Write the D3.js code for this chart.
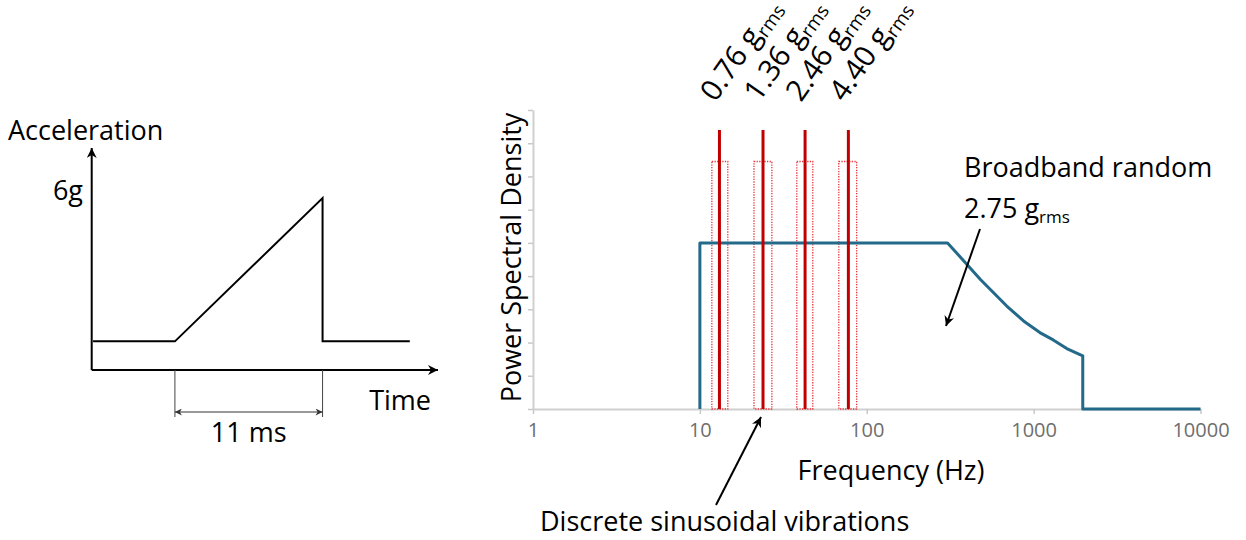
<!DOCTYPE html>
<html>
<head>
<meta charset="utf-8">
<script src="https://cdn.jsdelivr.net/npm/d3@7"></script>
<style>
  body { margin: 0; background: #fff; }
  svg { display: block; font-family: "Open Sans", sans-serif; }
</style>
</head>
<body>
<div id="chart"></div>
<script>
// shock pulse (left panel): time in ms, acceleration in g
const pulseTime = [-6.1, 0, 11, 11, 17.5];
const pulseAccel = [0, 0, 6, 0, 0];

// broadband random PSD (right panel), arbitrary PSD units (0..9 grid)
const psdFreq = [10, 10, 305, 480, 690, 870, 1090, 1310, 1580, 1970, 1970, 10000];
const psdLevel = [0, 5, 5, 3.9, 3.1, 2.65, 2.3, 2.08, 1.82, 1.6, 0, 0];

// discrete sine tones
const sineFreq = [13.1, 23.9, 42.7, 77.6];
const sineLow = [11.8, 21.1, 38.1, 68];
const sineHigh = [14.7, 27, 47.5, 87];
const sineLevel = 8.4;
const sineBandLevel = 7.45;
const sineLabels = ["0.76", "1.36", "2.46", "4.40"];

const freqTicks = [1, 10, 100, 1000, 10000];
const psdTicks = [0, 1, 2, 3, 4, 5, 6, 7, 8, 9];

const W = 1246, H = 540;
const svg = d3.select("#chart").append("svg")
  .attr("width", W).attr("height", H);

const defs = svg.append("defs");
defs.append("marker").attr("id", "arrowBig")
  .attr("viewBox", "0 0 10 10").attr("refX", 10).attr("refY", 5)
  .attr("markerWidth", 14).attr("markerHeight", 10)
  .attr("markerUnits", "userSpaceOnUse").attr("orient", "auto")
  .append("path").attr("d", "M0,0 L10,5 L0,10 L3,5 Z").attr("fill", "#000");
defs.append("marker").attr("id", "arrowDim")
  .attr("viewBox", "0 0 10 10").attr("refX", 10).attr("refY", 5)
  .attr("markerWidth", 12).attr("markerHeight", 7)
  .attr("markerUnits", "userSpaceOnUse").attr("orient", "auto-start-reverse")
  .append("path").attr("d", "M0,0 L10,5 L0,10 L3,5 Z").attr("fill", "#333");

// ---------- left panel: shock pulse ----------
const tx = d3.scaleLinear().domain([-6.2, 19.6]).range([91.7, 438]);
const ay = d3.scaleLinear().domain([-1.2, 8.1]).range([370, 148]);

const left = svg.append("g");
// axes with arrows
left.append("line")
  .attr("x1", tx(-6.2)).attr("y1", ay(-1.2))
  .attr("x2", tx(-6.2)).attr("y2", ay(8.1))
  .attr("stroke", "#000").attr("stroke-width", 2)
  .attr("marker-end", "url(#arrowBig)");
left.append("line")
  .attr("x1", tx(-6.2)).attr("y1", ay(-1.2))
  .attr("x2", tx(19.6)).attr("y2", ay(-1.2))
  .attr("stroke", "#000").attr("stroke-width", 2)
  .attr("marker-end", "url(#arrowBig)");

const pulse = pulseTime.map((t, i) => [t, pulseAccel[i]]);
left.append("path")
  .datum(pulse)
  .attr("fill", "none").attr("stroke", "#000").attr("stroke-width", 2)
  .attr("d", d3.line().x(d => tx(d[0])).y(d => ay(d[1])));

// 11 ms dimension
[0, 11].forEach(t => {
  left.append("line")
    .attr("x1", tx(t)).attr("x2", tx(t))
    .attr("y1", ay(-1.2)).attr("y2", ay(-1.2) + 47)
    .attr("stroke", "#444").attr("stroke-width", 1);
});
left.append("line")
  .attr("x1", tx(0)).attr("x2", tx(11))
  .attr("y1", ay(-1.2) + 42).attr("y2", ay(-1.2) + 42)
  .attr("stroke", "#333").attr("stroke-width", 1.2)
  .attr("marker-start", "url(#arrowDim)").attr("marker-end", "url(#arrowDim)");

left.append("text").attr("x", 8).attr("y", 140)
  .attr("font-size", 27).text("Acceleration");
left.append("text").attr("x", 83).attr("y", 200).attr("text-anchor", "end")
  .attr("font-size", 27).text("6g");
left.append("text").attr("x", 431).attr("y", 410).attr("text-anchor", "end")
  .attr("font-size", 27).text("Time");
left.append("text").attr("x", tx(5.5)).attr("y", 442).attr("text-anchor", "middle")
  .attr("font-size", 27).text("11 ms");

// ---------- right panel: PSD ----------
const fx = d3.scaleLog().domain([1, 10000]).range([533, 1200.5]);
const py = d3.scaleLinear().domain([0, 9]).range([409, 110]);

const right = svg.append("g");

const xAxis = right.append("g")
  .attr("transform", `translate(0,${py(0)})`)
  .call(d3.axisBottom(fx).tickValues(freqTicks).tickFormat(d3.format("d"))
    .tickSize(5).tickPadding(9).tickSizeOuter(0));
xAxis.select(".domain").attr("stroke", "#d0d0d0").attr("stroke-width", 2);
xAxis.selectAll(".tick line").attr("stroke", "#c8c8c8").attr("stroke-width", 1.5);
xAxis.selectAll(".tick text").attr("fill", "#6e6e6e")
  .attr("font-size", 20).attr("font-family", "Open Sans, sans-serif");

const yAxis = right.append("g")
  .attr("transform", `translate(${fx(1)},0)`)
  .call(d3.axisLeft(py).tickValues(psdTicks).tickFormat("").tickSize(5).tickSizeOuter(0));
yAxis.select(".domain").attr("stroke", "#d0d0d0").attr("stroke-width", 2);
yAxis.selectAll(".tick line").attr("stroke", "#c8c8c8").attr("stroke-width", 1.5);

// dotted bands around sine tones
right.selectAll("rect.band")
  .data(sineFreq)
  .join("rect").attr("class", "band")
  .attr("x", (d, i) => fx(sineLow[i]))
  .attr("width", (d, i) => fx(sineHigh[i]) - fx(sineLow[i]))
  .attr("y", py(sineBandLevel))
  .attr("height", py(0) - py(sineBandLevel))
  .attr("fill", "none").attr("stroke", "#e8343a")
  .attr("stroke-width", 1.3).attr("stroke-dasharray", "1.3,1.3");

// broadband PSD
const psd = psdFreq.map((f, i) => [f, psdLevel[i]]);
right.append("path")
  .datum(psd)
  .attr("fill", "none").attr("stroke", "#23698a").attr("stroke-width", 3)
  .attr("stroke-linejoin", "round")
  .attr("d", d3.line().x(d => fx(d[0])).y(d => py(d[1])));

// sine tone lines
right.selectAll("line.sine")
  .data(sineFreq)
  .join("line").attr("class", "sine")
  .attr("x1", d => fx(d)).attr("x2", d => fx(d))
  .attr("y1", py(sineLevel)).attr("y2", py(0))
  .attr("stroke", "#c00000").attr("stroke-width", 3);

// rotated tone labels
const lbl = right.selectAll("text.sineLbl")
  .data(sineFreq)
  .join("text").attr("class", "sineLbl")
  .attr("transform", d => `translate(${fx(d) - 4},${103}) rotate(-55)`)
  .attr("font-size", 29.5);
lbl.append("tspan").text((d, i) => sineLabels[i] + " g");
lbl.append("tspan").attr("font-size", 19).attr("dy", 5).text("rms");

// axis titles
right.append("text")
  .attr("transform", `translate(521,${(105 + 410) / 2}) rotate(-90)`)
  .attr("text-anchor", "middle").attr("font-size", 27)
  .text("Power Spectral Density");
right.append("text")
  .attr("x", 891).attr("y", 480).attr("text-anchor", "middle")
  .attr("font-size", 27).text("Frequency (Hz)");

// annotations
const bb = right.append("text").attr("x", 964).attr("y", 218).attr("font-size", 27);
bb.append("tspan").text("2.75 g");
bb.append("tspan").attr("font-size", 17).attr("dy", 5).text("rms");
right.append("text").attr("x", 964).attr("y", 177).attr("font-size", 27)
  .text("Broadband random");
right.append("line")
  .attr("x1", 980).attr("y1", 229).attr("x2", 946).attr("y2", 326)
  .attr("stroke", "#000").attr("stroke-width", 2)
  .attr("marker-end", "url(#arrowBig)");

right.append("line")
  .attr("x1", 716).attr("y1", 505).attr("x2", fx(sineFreq[1]) - 2).attr("y2", 417)
  .attr("stroke", "#000").attr("stroke-width", 2)
  .attr("marker-end", "url(#arrowBig)");
right.append("text").attr("x", 540).attr("y", 531).attr("font-size", 27)
  .text("Discrete sinusoidal vibrations");
</script>
</body>
</html>
